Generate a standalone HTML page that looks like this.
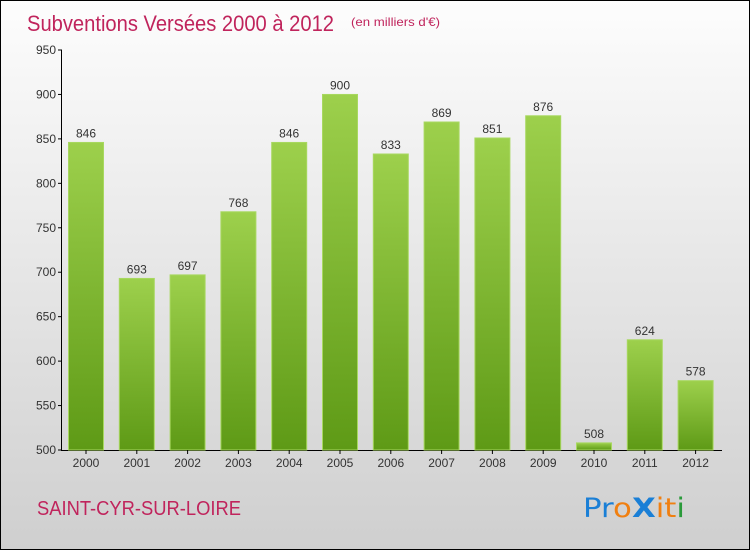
<!DOCTYPE html>
<html><head><meta charset="utf-8"><style>
body{margin:0}
#c{width:748px;height:548px;border:1px solid #000;background:linear-gradient(#fdfdfd,#cfcfcf);position:relative;font-family:"Liberation Sans",sans-serif;overflow:hidden}
</style></head><body>
<div id="c">
<svg width="748" height="548" id="s">
<defs><linearGradient id="g" x1="0" y1="0" x2="0" y2="1"><stop offset="0" stop-color="#9dd04c"/><stop offset="1" stop-color="#5e9a16"/></linearGradient></defs>
<text x="26" y="30" font-size="22" fill="#c0245c" textLength="307" lengthAdjust="spacingAndGlyphs">Subventions Versées 2000 à 2012</text>
<text x="350" y="25" font-size="12" fill="#c0245c" textLength="89" lengthAdjust="spacingAndGlyphs">(en milliers d'€)</text>
<text x="36" y="514" font-size="20" fill="#c0245c" textLength="204" lengthAdjust="spacingAndGlyphs">SAINT-CYR-SUR-LOIRE</text>
<text x="582" y="516" font-size="27" font-family="'DejaVu Sans',sans-serif" textLength="102" lengthAdjust="spacingAndGlyphs"><tspan fill="#1a7fd6">Pr</tspan><tspan fill="#f07f10">o</tspan><tspan fill="#1a7fd6" font-weight="bold">X</tspan><tspan fill="#f07f10">it</tspan><tspan fill="#2a9a3a">i</tspan></text>
<g id="plot"></g>
</svg></div>
<script>
const years=["2000","2001","2002","2003","2004","2005","2006","2007","2008","2009","2010","2011","2012"];
const values=[846,693,697,768,846,900,833,869,851,876,508,624,578];
const ticks=[500,550,600,650,700,750,800,850,900,950];
const NS="http://www.w3.org/2000/svg";
const p=document.getElementById('plot');
const y=v=>449-(v-500)*400/450;
const x=i=>67+i*50.8;
function mk(t,a){const e=document.createElementNS(NS,t);for(const k in a)e.setAttribute(k,a[k]);p.appendChild(e);return e;}
let ax=mk('line',{x1:60.5,y1:49,x2:60.5,y2:449.5,stroke:'#000'});


let bx=mk('line',{x1:60,y1:449.5,x2:721,y2:449.5,stroke:'#000'});


ticks.forEach(t=>{
 const l=mk('line',{x1:57,x2:61,y1:y(t),y2:y(t),stroke:'#000'});
 
 
 const tx=mk('text',{x:55,y:y(t)+4,'font-size':12,'text-anchor':'end',fill:'#333'});tx.textContent=t;
 
 
});
years.forEach((yr,i)=>{
 const v=values[i],bxx=x(i);
 const r=mk('rect',{x:bxx+0.5,y:y(v),width:35,height:449-y(v),fill:'url(#g)',stroke:'#a8d860','stroke-width':1});
 
 
 const vt=mk('text',{x:bxx+18,y:y(v)-5,'font-size':12,'text-anchor':'middle',fill:'#333'});vt.textContent=v;
 
 
 const xt=mk('text',{x:bxx+18,y:466,'font-size':12,'text-anchor':'middle',fill:'#333'});xt.textContent=yr;
 
 
 const tk=mk('line',{x1:bxx+18,x2:bxx+18,y1:449,y2:453,stroke:'#000'});
 
 
});
</script>
</body></html>
